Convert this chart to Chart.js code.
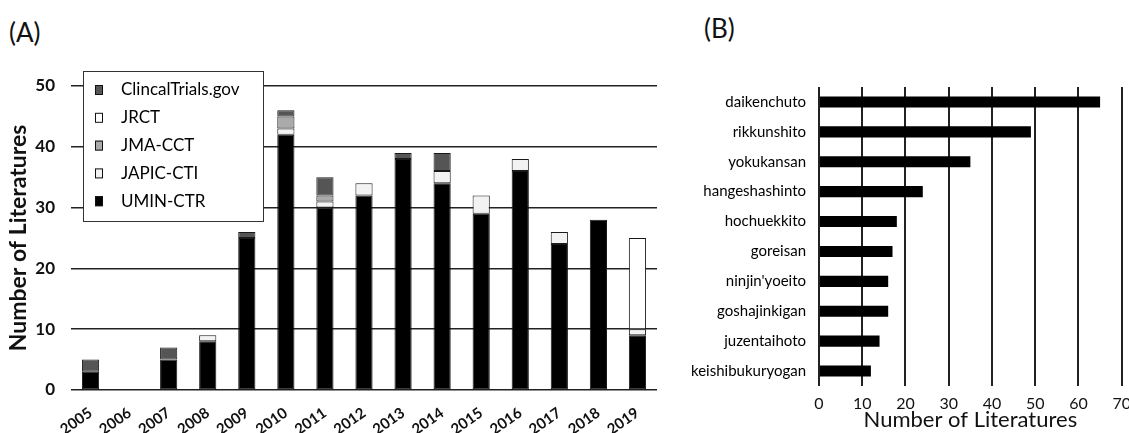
<!DOCTYPE html>
<html>
<head>
<meta charset="utf-8">
<script src="https://cdn.jsdelivr.net/npm/chart.js@4"></script>
<style>
  body { margin: 0; background: #fff; font-family: Lato, sans-serif; }
  #wrap { position: relative; width: 1129px; height: 433px; overflow: hidden; }
  .panel { position: absolute; top: 0; }
  .tag { position: absolute; font-size: 26px; color: #111; }
</style>
</head>
<body>
<div id="wrap">
  <div class="tag" style="left:9px; top:16px;">(A)</div>
  <div class="tag" style="left:704px; top:12px;">(B)</div>
  <div class="panel" style="left:0; width:668px; height:433px;"><canvas id="left"></canvas></div>
  <div class="panel" style="left:680px; width:459px; height:433px;"><canvas id="right"></canvas></div>
</div>
<script>
// panel A: trials per year by registry
const years = ['2005','2006','2007','2008','2009','2010','2011','2012','2013','2014','2015','2016','2017','2018','2019'];
const umin  = [3, 0, 5, 8, 25, 42, 30, 32, 38, 34, 29, 36, 24, 28, 9];
const japic = [0, 0, 0, 1, 0, 1, 1, 2, 0, 2, 3, 2, 2, 0, 1];
const jma   = [0, 0, 0, 0, 0, 2, 1, 0, 0, 0, 0, 0, 0, 0, 0];
const jrct  = [0, 0, 0, 0, 0, 0, 0, 0, 0, 0, 0, 0, 0, 0, 15];
const ctgov = [2, 0, 2, 0, 1, 1, 3, 0, 1, 3, 0, 0, 0, 0, 0];
const yTicksA = [0, 10, 20, 30, 40, 50];

// panel B: top kampo formulas
const formulas = ['daikenchuto','rikkunshito','yokukansan','hangeshashinto','hochuekkito','goreisan',"ninjin'yoeito",'goshajinkigan','juzentaihoto','keishibukuryogan'];
const formulaCounts = [65, 49, 35, 24, 18, 17, 16, 16, 14, 12];

Chart.defaults.font.family = 'Lato, sans-serif';
Chart.defaults.color = '#111';
Chart.defaults.animation = false;

function ds(label, data, color) {
  return {
    label: label,
    data: data.map(v => v || null),
    backgroundColor: color,
    borderColor: '#1a1a1a',
    borderWidth: 1,
    borderSkipped: false,
    barPercentage: 0.44,
    categoryPercentage: 1
  };
}

// legend drawn inside the plot, over the grid lines
const boxLegend = {
  id: 'boxLegend',
  afterDatasetsDraw(chart) {
    const ctx = chart.ctx;
    const a = chart.chartArea;
    const x = a.left + 12, y = a.top - 15, w = 180, h = 150;
    ctx.save();
    ctx.fillStyle = '#fff';
    ctx.fillRect(x, y, w, h);
    ctx.strokeStyle = '#333';
    ctx.lineWidth = 1;
    ctx.strokeRect(x + 0.5, y + 0.5, w, h);
    const items = chart.data.datasets.slice().reverse();
    ctx.font = '17px Lato, sans-serif';
    ctx.textBaseline = 'middle';
    items.forEach((d, i) => {
      const cy = y + 19 + i * 27.8;
      ctx.fillStyle = d.backgroundColor;
      ctx.fillRect(x + 12, cy - 5, 8, 10);
      ctx.strokeStyle = '#111';
      ctx.strokeRect(x + 12.5, cy - 4.5, 7, 9);
      ctx.fillStyle = '#000';
      ctx.fillText(d.label, x + 38, cy);
    });
    ctx.restore();
  }
};

new Chart(document.getElementById('left'), {
  type: 'bar',
  data: {
    labels: years,
    datasets: [
      ds('UMIN-CTR', umin, '#000'),
      ds('JAPIC-CTI', japic, '#f2f2f2'),
      ds('JMA-CCT', jma, '#aaaaaa'),
      ds('JRCT', jrct, '#ffffff'),
      ds('ClincalTrials.gov', ctgov, '#555555')
    ]
  },
  options: {
    responsive: true,
    maintainAspectRatio: false,
    layout: { padding: { top: 86, right: 11, left: 0, bottom: 0 } },
    plugins: { legend: { display: false }, tooltip: { enabled: false } },
    scales: {
      x: {
        stacked: true,
        grid: { display: false },
        border: { display: false },
        ticks: { minRotation: 35, maxRotation: 35, padding: 6, font: { size: 15, weight: 'bold' }, color: '#111' },
        afterFit(s) { s.height = 43; }
      },
      y: {
        stacked: true,
        min: 0, max: 50,
        afterBuildTicks(s) { s.ticks = yTicksA.map(v => ({ value: v })); },
        grid: { color: '#222', lineWidth: 1.5, drawTicks: false },
        border: { display: false },
        ticks: { padding: 16, font: { size: 17, weight: 'bold' }, color: '#111' },
        title: { display: true, text: 'Number of Literatures', font: { size: 23, weight: 'bold' }, color: '#111', padding: { top: 5, bottom: 0 } },
        afterFit(s) { s.width = 71; }
      }
    }
  },
  plugins: [boxLegend]
});

new Chart(document.getElementById('right'), {
  type: 'bar',
  data: {
    labels: formulas,
    datasets: [{
      data: formulaCounts,
      backgroundColor: '#000',
      barPercentage: 0.37,
      categoryPercentage: 1
    }]
  },
  options: {
    indexAxis: 'y',
    responsive: true,
    maintainAspectRatio: false,
    layout: { padding: { top: 87, right: 0, left: 0, bottom: 0 } },
    plugins: { legend: { display: false }, tooltip: { enabled: false } },
    scales: {
      x: {
        min: 0, max: 70,
        ticks: { stepSize: 10, padding: 8, font: { size: 16 }, color: '#111' },
        grid: { color: '#222', lineWidth: 2, drawTicks: false },
        border: { display: false },
        title: { display: true, text: 'Number of Literatures', font: { size: 22 }, color: '#111', padding: { top: -2, bottom: 0 } },
        afterFit(s) { s.height = 47; }
      },
      y: {
        grid: { display: false },
        border: { display: false },
        ticks: { padding: 5, font: { size: 15 }, color: '#000' },
        afterFit(s) { s.width = 139; }
      }
    }
  }
});
</script>
</body>
</html>
